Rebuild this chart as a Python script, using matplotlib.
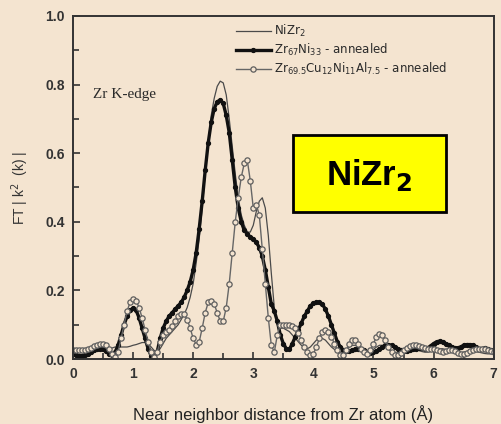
import matplotlib
matplotlib.use("Agg")
import matplotlib.pyplot as plt
from matplotlib.patches import Rectangle
from matplotlib.ticker import MultipleLocator
import numpy as np

# radial grid of the Fourier transform (0 to 7 A, 0.05 A step)
r = np.round(np.arange(141) * 0.05, 2)

# NiZr2 reference compound
nizr2 = [
    0.02, 0.02, 0.02, 0.02, 0.02, 0.022, 0.025, 0.028, 0.03, 0.03,
    0.03, 0.03, 0.03, 0.032, 0.035, 0.035, 0.035, 0.035, 0.035, 0.037,
    0.04, 0.042, 0.045, 0.048, 0.048, 0.045, 0.035, 0.025, 0.02, 0.03,
    0.045, 0.06, 0.07, 0.08, 0.09, 0.10, 0.115, 0.13, 0.15, 0.18,
    0.22, 0.28, 0.35, 0.44, 0.54, 0.63, 0.71, 0.76, 0.795, 0.81,
    0.805, 0.77, 0.70, 0.62, 0.54, 0.47, 0.42, 0.39, 0.37, 0.37,
    0.39, 0.43, 0.46, 0.47, 0.44, 0.36, 0.25, 0.15, 0.10, 0.09,
    0.09, 0.085, 0.08, 0.07, 0.06, 0.05, 0.04, 0.035, 0.03, 0.035,
    0.045, 0.055, 0.06, 0.06, 0.055, 0.045, 0.035, 0.028, 0.022, 0.02,
    0.022, 0.028, 0.035, 0.04, 0.04, 0.035, 0.028, 0.022, 0.02, 0.022,
    0.028, 0.035, 0.04, 0.04, 0.035, 0.028, 0.022, 0.018, 0.018, 0.02,
    0.025, 0.028, 0.03, 0.03, 0.028, 0.025, 0.022, 0.02, 0.02, 0.022,
    0.025, 0.028, 0.03, 0.03, 0.028, 0.025, 0.022, 0.02, 0.018, 0.018,
    0.02, 0.022, 0.025, 0.025, 0.022, 0.02, 0.018, 0.016, 0.015, 0.015,
    0.015,
]

# Zr67Ni33 annealed
zr67ni33 = [
    0.015, 0.012, 0.01, 0.01, 0.012, 0.015, 0.02, 0.025, 0.03, 0.03,
    0.028, 0.022, 0.015, 0.012, 0.02, 0.04, 0.07, 0.10, 0.125, 0.142,
    0.148, 0.142, 0.12, 0.09, 0.06, 0.03, 0.01, 0.005, 0.02, 0.06,
    0.09, 0.11, 0.125, 0.135, 0.145, 0.155, 0.165, 0.18, 0.20, 0.225,
    0.26, 0.31, 0.38, 0.46, 0.55, 0.63, 0.69, 0.73, 0.75, 0.755,
    0.745, 0.71, 0.66, 0.58, 0.50, 0.44, 0.40, 0.375, 0.365, 0.355,
    0.35, 0.34, 0.325, 0.30, 0.26, 0.21, 0.16, 0.14, 0.11, 0.07,
    0.045, 0.03, 0.028, 0.045, 0.065, 0.085, 0.105, 0.125, 0.14, 0.155,
    0.162, 0.165, 0.165, 0.16, 0.145, 0.125, 0.10, 0.075, 0.05, 0.035,
    0.025, 0.022, 0.022, 0.025, 0.028, 0.03, 0.028, 0.025, 0.02, 0.018,
    0.02, 0.022, 0.028, 0.035, 0.04, 0.042, 0.04, 0.035, 0.03, 0.025,
    0.022, 0.022, 0.025, 0.028, 0.03, 0.032, 0.032, 0.03, 0.032, 0.038,
    0.045, 0.05, 0.052, 0.05, 0.045, 0.04, 0.035, 0.032, 0.032, 0.035,
    0.04, 0.042, 0.042, 0.04, 0.035, 0.03, 0.03, 0.032, 0.03, 0.025,
    0.02,
]

# Zr69.5Cu12Ni11Al7.5 annealed
zrcunial = [
    0.025, 0.025, 0.025, 0.025, 0.025, 0.028, 0.032, 0.038, 0.042, 0.045,
    0.045, 0.04, 0.03, 0.015, 0.005, 0.02, 0.06, 0.10, 0.14, 0.165,
    0.175, 0.17, 0.15, 0.12, 0.085, 0.05, 0.02, 0.005, 0.02, 0.05,
    0.07, 0.08, 0.085, 0.095, 0.11, 0.125, 0.132, 0.13, 0.115, 0.09,
    0.06, 0.042, 0.05, 0.09, 0.135, 0.165, 0.17, 0.16, 0.135, 0.11,
    0.11, 0.15, 0.22, 0.31, 0.40, 0.47, 0.53, 0.57, 0.58, 0.52,
    0.44, 0.45, 0.42, 0.32, 0.22, 0.12, 0.04, 0.02, 0.07, 0.10,
    0.10, 0.10, 0.10, 0.095, 0.09, 0.075, 0.055, 0.035, 0.02, 0.012,
    0.015, 0.035, 0.06, 0.08, 0.085, 0.08, 0.065, 0.045, 0.025, 0.012,
    0.012, 0.025, 0.045, 0.055, 0.055, 0.045, 0.03, 0.02, 0.015, 0.025,
    0.045, 0.065, 0.072, 0.07, 0.055, 0.035, 0.02, 0.012, 0.012, 0.018,
    0.025, 0.032, 0.038, 0.04, 0.04, 0.038, 0.035, 0.032, 0.03, 0.03,
    0.028, 0.025, 0.022, 0.02, 0.022, 0.025, 0.025, 0.022, 0.018, 0.015,
    0.015, 0.018, 0.022, 0.025, 0.028, 0.03, 0.03, 0.028, 0.025, 0.022,
    0.02,
]

bg = "#f4e4d0"
ink = "#333333"

fig = plt.figure(figsize=(5.02, 4.24), dpi=100, facecolor=bg)
ax = fig.add_axes([0.1454, 0.1533, 0.838, 0.809], facecolor=bg)

ax.plot(r, nizr2, color="#4a4a4a", lw=0.9, label=r"NiZr$_2$")
ax.plot(r, zr67ni33, color="#111111", lw=2.4, marker="o", ms=2.8,
        label=r"Zr$_{67}$Ni$_{33}$ - annealed")
ax.plot(r, zrcunial, color="#666666", lw=1.0, marker="o", ms=3.8,
        mfc=bg, mec="#5e5e5e", mew=0.9,
        label=r"Zr$_{69.5}$Cu$_{12}$Ni$_{11}$Al$_{7.5}$ - annealed")

ax.set_xlim(0, 7)
ax.set_ylim(0, 1.0)
ax.xaxis.set_major_locator(MultipleLocator(1))
ax.xaxis.set_minor_locator(MultipleLocator(0.5))
ax.yaxis.set_major_locator(MultipleLocator(0.2))
ax.yaxis.set_minor_locator(MultipleLocator(0.1))
ax.yaxis.set_major_formatter(plt.FormatStrFormatter("%.1f"))
ax.tick_params(which="both", direction="in", color=ink, width=1.2)
ax.tick_params(which="major", length=5)
ax.tick_params(which="minor", length=4)
ax.tick_params(labelsize=10, labelcolor=ink, pad=6)
for lab in ax.get_xticklabels() + ax.get_yticklabels():
    lab.set_fontfamily("Liberation Sans")
    lab.set_fontweight("bold")
for sp in ax.spines.values():
    sp.set_color(ink)
    sp.set_linewidth(1.4)

ax.set_xlabel("Near neighbor distance from Zr atom (Å)", fontsize=12,
              color="#222222", family="Liberation Sans", labelpad=17)
ax.set_ylabel(r"FT | k$^2$  (k) |", fontsize=10, color=ink,
              family="Liberation Sans", labelpad=10)

ax.text(0.33, 0.77, "Zr K-edge", family="Liberation Serif", fontsize=11,
        color="#2a2a2a", va="center")

# highlighted compound label
ax.add_patch(Rectangle((3.66, 0.429), 2.54, 0.224, facecolor="#ffff00",
                       edgecolor="black", lw=2, zorder=5))
ax.text(4.93, 0.536, r"NiZr$_\mathbf{2}$", fontsize=25, fontweight="bold",
        family="Liberation Sans", ha="center", va="center", zorder=6)

leg = ax.legend(loc="upper left", bbox_to_anchor=(0.37, 1.0), frameon=False,
                fontsize=8.5, handlelength=3.0, handletextpad=0.2,
                labelspacing=0.25, borderpad=0.1, numpoints=1)
for t in leg.get_texts():
    t.set_color("#2a2a2a")

fig.savefig("out.png", dpi=100, facecolor=bg)
